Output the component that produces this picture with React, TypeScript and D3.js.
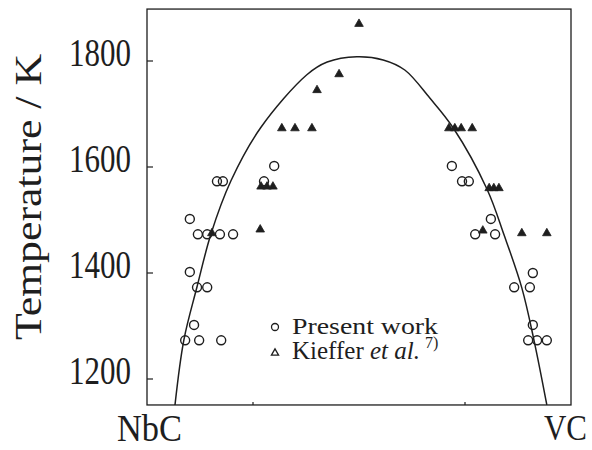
import React from "react";
import * as d3 from "d3";

// Composition (0 = NbC, 1 = VC) vs temperature / K
const presentWork = [
  { c: 0.165, t: 1573 }, { c: 0.179, t: 1573 }, { c: 0.276, t: 1573 }, { c: 0.300, t: 1602 },
  { c: 0.101, t: 1502 },
  { c: 0.120, t: 1473 }, { c: 0.142, t: 1473 }, { c: 0.172, t: 1473 }, { c: 0.203, t: 1473 },
  { c: 0.101, t: 1402 },
  { c: 0.118, t: 1373 }, { c: 0.142, t: 1373 },
  { c: 0.111, t: 1302 },
  { c: 0.090, t: 1273 }, { c: 0.123, t: 1273 }, { c: 0.175, t: 1273 },
  { c: 0.719, t: 1602 }, { c: 0.743, t: 1573 }, { c: 0.759, t: 1573 },
  { c: 0.811, t: 1502 },
  { c: 0.774, t: 1473 }, { c: 0.821, t: 1473 },
  { c: 0.910, t: 1400 },
  { c: 0.866, t: 1373 }, { c: 0.903, t: 1373 },
  { c: 0.910, t: 1302 },
  { c: 0.899, t: 1273 }, { c: 0.920, t: 1273 }, { c: 0.943, t: 1273 },
];

const kieffer = [
  { c: 0.500, t: 1870 }, { c: 0.453, t: 1775 }, { c: 0.401, t: 1745 },
  { c: 0.318, t: 1673 }, { c: 0.349, t: 1673 }, { c: 0.389, t: 1673 },
  { c: 0.269, t: 1563 }, { c: 0.283, t: 1563 }, { c: 0.297, t: 1563 },
  { c: 0.267, t: 1482 }, { c: 0.153, t: 1475 },
  { c: 0.712, t: 1673 }, { c: 0.726, t: 1673 }, { c: 0.741, t: 1673 }, { c: 0.767, t: 1673 },
  { c: 0.807, t: 1560 }, { c: 0.818, t: 1560 }, { c: 0.830, t: 1560 },
  { c: 0.792, t: 1480 }, { c: 0.884, t: 1475 }, { c: 0.943, t: 1475 },
];

const boundary = [
  { c: 0.066, t: 1151 }, { c: 0.087, t: 1274 }, { c: 0.118, t: 1374 }, { c: 0.151, t: 1474 },
  { c: 0.198, t: 1574 }, { c: 0.268, t: 1674 }, { c: 0.377, t: 1774 }, { c: 0.425, t: 1798 },
  { c: 0.495, t: 1808 }, { c: 0.557, t: 1802 }, { c: 0.608, t: 1783 }, { c: 0.667, t: 1730 },
  { c: 0.722, t: 1674 }, { c: 0.802, t: 1558 }, { c: 0.842, t: 1472 }, { c: 0.884, t: 1372 },
  { c: 0.913, t: 1272 }, { c: 0.943, t: 1151 },
];

const yTicks = [1200, 1400, 1600, 1800];
const xTicks = [0.25, 0.75];
const xEndLabels = ["NbC", "VC"];

const INK = "#1e1e1e";
const SERIF = "'Liberation Serif', 'Times New Roman', serif";

export default function App() {
  const x = d3.scaleLinear().domain([0, 1]).range([147, 571]);
  const y = d3.scaleLinear().domain([1200, 1800]).range([379, 61]);
  const yMin = 1151;
  const yMax = 1898;

  const line = d3
    .line<{ c: number; t: number }>()
    .x((d) => x(d.c))
    .y((d) => y(d.t))
    .curve(d3.curveCatmullRom.alpha(0.5));

  const tri = d3.symbol().type(d3.symbolTriangle).size(32)();
  const triSmall = d3.symbol().type(d3.symbolTriangle).size(22)();

  const left = x(0);
  const right = x(1);
  const top = y(yMax);
  const bottom = y(yMin);

  return (
    <svg
      width={592}
      height={450}
      style={{ position: "absolute", left: 0, top: 0, background: "#fff" }}
    >
      <rect x={0} y={0} width={592} height={450} fill="#fff" />
      {/* frame */}
      <rect
        x={left}
        y={top}
        width={right - left}
        height={bottom - top}
        fill="none"
        stroke={INK}
        strokeWidth={1.3}
      />
      {/* y ticks (inward) and labels */}
      {yTicks.map((t) => (
        <g key={t}>
          <line x1={left} x2={left + 6} y1={y(t)} y2={y(t)} stroke={INK} strokeWidth={1.2} />
          <text
            x={131}
            y={y(t) + 5}
            textAnchor="end"
            fontFamily={SERIF}
            fontSize={41}
            textLength={62}
            lengthAdjust="spacingAndGlyphs"
            fill={INK}
          >
            {t}
          </text>
        </g>
      ))}
      {/* x ticks */}
      {xTicks.map((c) => (
        <line key={c} x1={x(c)} x2={x(c)} y1={bottom} y2={bottom - 3} stroke={INK} strokeWidth={1.2} />
      ))}
      {/* x end labels */}
      <text
        x={117}
        y={441}
        fontFamily={SERIF}
        fontSize={37}
        textLength={65}
        lengthAdjust="spacingAndGlyphs"
        fill={INK}
      >
        {xEndLabels[0]}
      </text>
      <text
        x={587}
        y={440}
        textAnchor="end"
        fontFamily={SERIF}
        fontSize={35}
        textLength={43}
        lengthAdjust="spacingAndGlyphs"
        fill={INK}
      >
        {xEndLabels[1]}
      </text>
      {/* y axis title */}
      <text
        transform={`translate(41,${197}) rotate(-90)`}
        textAnchor="middle"
        fontFamily={SERIF}
        fontSize={38}
        textLength={286}
        lengthAdjust="spacingAndGlyphs"
        fill={INK}
      >
        Temperature / K
      </text>
      {/* boundary curve */}
      <path d={line(boundary) || ""} fill="none" stroke={INK} strokeWidth={1.5} />
      {/* present work circles */}
      {presentWork.map((d, i) => (
        <circle
          key={"p" + i}
          cx={x(d.c)}
          cy={y(d.t)}
          r={4.5}
          fill="none"
          stroke={INK}
          strokeWidth={1.4}
        />
      ))}
      {/* Kieffer triangles */}
      {kieffer.map((d, i) => (
        <path
          key={"k" + i}
          d={tri || ""}
          transform={`translate(${x(d.c)},${y(d.t)})`}
          fill={INK}
          stroke={INK}
          strokeWidth={0.8}
        />
      ))}
      {/* legend */}
      <circle cx={275} cy={327} r={3.5} fill="none" stroke={INK} strokeWidth={1.3} />
      <text
        x={292}
        y={334}
        fontFamily={SERIF}
        fontSize={24}
        textLength={146}
        lengthAdjust="spacingAndGlyphs"
        fill={INK}
      >
        Present work
      </text>
      <path
        d={triSmall || ""}
        transform="translate(275,353)"
        fill="none"
        stroke={INK}
        strokeWidth={1.3}
      />
      <text x={292} y={359} fontFamily={SERIF} fontSize={25} fill={INK}>
        Kieffer <tspan fontStyle="italic">et al.</tspan>
        <tspan fontSize={16} dy={-11} dx={5}>7)</tspan>
      </text>
    </svg>
  );
}
